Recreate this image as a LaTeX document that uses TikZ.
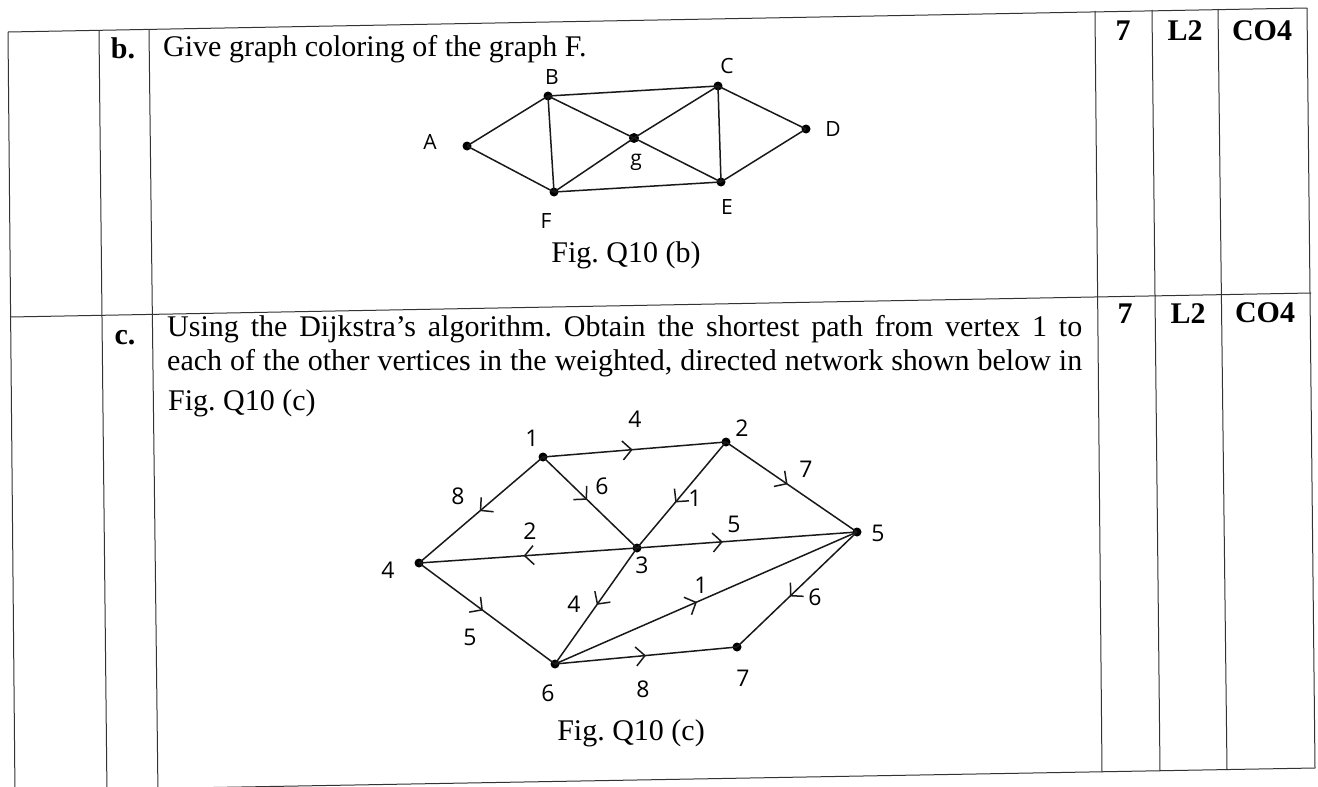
\documentclass[tikz,border=0pt]{standalone}
\usepackage{fontspec}
\setmainfont{Liberation Serif}
\newfontfamily\hand{Open Sans}
\usetikzlibrary{decorations.markings,arrows.meta}
\begin{document}
\frenchspacing
\begin{tikzpicture}[x=1pt,y=-1pt,
  tline/.style={line width=1pt, black!80},
  edge/.style={line width=1.5pt, black!90},
  vtx/.style={circle, fill=black, inner sep=0pt, minimum size=9pt},
  lbl/.style={font=\hand\fontsize{23}{23}\selectfont, inner sep=0pt},
  lblb/.style={font=\hand\fontsize{21}{21}\selectfont, inner sep=0pt},
  txt/.style={font=\fontsize{30}{34}\selectfont, inner sep=0pt},
  bld/.style={font=\fontsize{30}{34}\selectfont\bfseries, inner sep=0pt},
  arr/.style={postaction={decorate}, decoration={markings, mark=at position #1 with {\arrow{Straight Barb[length=9pt,width=19pt,line width=1.5pt]}}}}
]
\useasboundingbox (0,0) rectangle (1318,787);
\clip (0,0) rectangle (1318,787);
\fill[white] (0,0) rectangle (1318,787);

% ---------- table ----------
\coordinate (tA) at (8,32);    \coordinate (bA) at (15,795);
\coordinate (tB) at (99,31);   \coordinate (bB) at (107,795);
\coordinate (tC) at (149,30);  \coordinate (bC) at (158,795);
\coordinate (tD) at (1095,11); \coordinate (bD) at (1102,772);
\coordinate (tE) at (1152,10); \coordinate (bE) at (1160,771);
\coordinate (tF) at (1218,9);  \coordinate (bF) at (1227,770);
\coordinate (tG) at (1307,8);  \coordinate (bG) at (1315,768);
\coordinate (mL) at (10,317);  \coordinate (mR) at (1311,293);
\coordinate (zL) at (15,791);

\draw[tline] (tA) -- (tG);
\draw[tline] (mL) -- (mR);
\draw[tline] (zL) -- (bG);
\foreach \c in {A,B,C,D,E,F,G} \draw[tline] (t\c) -- (b\c);

% ---------- texts ----------
\node[bld, anchor=base] (lb) at (123,58) {b.};
\node[txt, anchor=base west] (qb) at (163,56) {Give graph coloring of the graph F.};
\node[txt, anchor=base] (figb) at (626,262) {Fig. Q10 (b)};

\node[bld, anchor=base] (lc) at (125,344) {c.};
\node[txt, anchor=base west] (qc1) at (167,336) {\makebox[915pt][s]{Using the Dijkstra’s algorithm. Obtain the shortest path from vertex 1 to}};
\node[txt, anchor=base west] (qc2) at (167,370) {\makebox[915pt][s]{each of the other vertices in the weighted, directed network shown below in}};
\node[txt, anchor=base west] (qc3) at (168,410) {Fig. Q10 (c)};
\node[txt, anchor=base] (figc) at (631,740) {Fig. Q10 (c)};

\node[bld, anchor=base] (m1) at (1123,40) {7};
\node[bld, anchor=base] (l1) at (1185,40) {L2};
\node[bld, anchor=base] (c1) at (1262,40) {CO4};
\node[bld, anchor=base] (m2) at (1125,323) {7};
\node[bld, anchor=base] (l2) at (1188,323) {L2};
\node[bld, anchor=base] (c2) at (1265,322) {CO4};

% ---------- graph F ----------
\node[vtx] (A) at (467,146) {};
\node[vtx] (B) at (548,96) {};
\node[vtx] (C) at (718,86) {};
\node[vtx] (D) at (806,129) {};
\node[vtx, minimum size=10pt] (G) at (634,138) {};
\node[vtx] (F) at (554,192) {};
\node[vtx] (E) at (721,182) {};
\node[lblb] (LA) at (430,142) {A};
\node[lblb] (LB) at (552,77) {B};
\node[lblb] (LC) at (727,66) {C};
\node[lblb] (LD) at (833,129) {D};
\node[lblb] (LG) at (636,162) {g};
\node[lblb] (LF) at (546,221) {F};
\node[lblb] (LE) at (727,207) {E};
\foreach \u/\v in {A/B,A/F,B/F,B/C,B/G,F/G,F/E,G/C,G/E,C/E,C/D,E/D}
  \draw[edge] (\u.center) -- (\v.center);

% ---------- directed network ----------
\node[vtx] (n1) at (543,457) {};
\node[vtx] (n2) at (726,442) {};
\node[vtx] (n3) at (637,548) {};
\node[vtx] (n4) at (419,563) {};
\node[vtx] (n5) at (857,532) {};
\node[vtx] (n6) at (555,664) {};
\node[vtx] (n7) at (737,647) {};
\node[lbl] (k1) at (532,438) {1};
\node[lbl] (k2) at (742,428) {2};
\node[lbl] (k3) at (642,565) {3};
\node[lbl] (k4) at (388,570) {4};
\node[lbl] (k5) at (878,533) {5};
\node[lbl] (k6) at (548,693) {6};
\node[lbl] (k7) at (743,678) {7};

\draw[edge, arr=0.49] (n1.center) -- (n2.center);
\draw[edge, arr=0.51] (n1.center) -- (n4.center);
\draw[edge, arr=0.47] (n1.center) -- (n3.center);
\draw[edge, arr=0.52] (n3.center) -- (n4.center);
\draw[edge, arr=0.57] (n2.center) -- (n3.center);
\draw[edge, arr=0.47] (n2.center) -- (n5.center);
\draw[edge, arr=0.39] (n3.center) -- (n5.center);
\draw[edge, arr=0.47] (n4.center) -- (n6.center);
\draw[edge, arr=0.49] (n3.center) -- (n6.center);
\draw[edge, arr=0.47] (n6.center) -- (n5.center);
\draw[edge, arr=0.50] (n6.center) -- (n7.center);
\draw[edge, arr=0.56] (n5.center) -- (n7.center);

\node[lbl] (w12) at (635,419) {4};
\node[lbl] (w14) at (458,496) {8};
\node[lbl] (w13) at (602,486) {6};
\node[lbl] (w34) at (530,531) {2};
\node[lbl] (w23) at (695,498) {1};
\node[lbl] (w25) at (806,469) {7};
\node[lbl] (w35) at (734,524) {5};
\node[lbl] (w36) at (574,604) {4};
\node[lbl] (w46) at (470,637) {5};
\node[lbl] (w65) at (701,585) {1};
\node[lbl] (w57) at (815,597) {6};
\node[lbl] (w67) at (643,689) {8};
\end{tikzpicture}
\end{document}
